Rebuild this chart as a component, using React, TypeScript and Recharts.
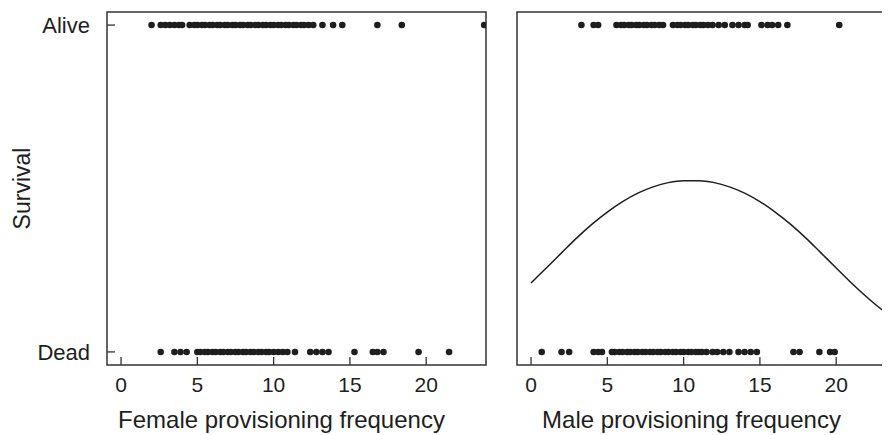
import { ScatterChart, Scatter, XAxis, YAxis, ReferenceArea } from "recharts";

const xTicks = [0, 5, 10, 15, 20];
const yTicks = [0, 1];
const yLabels = ["Dead", "Alive"];

const femaleAlive = [
  2.0, 2.6, 2.9, 3.2, 3.5, 3.8, 4.0, 4.5, 4.8, 5.0, 5.3, 5.5, 5.8, 6.0, 6.3, 6.5,
  6.8, 7.0, 7.3, 7.5, 7.8, 8.0, 8.3, 8.5, 8.8, 9.0, 9.3, 9.5, 9.8, 10.0, 10.3,
  10.5, 10.8, 11.0, 11.3, 11.5, 11.8, 12.0, 12.3, 12.6, 13.2, 13.9, 14.5, 16.8,
  18.4, 23.8,
];
const femaleDead = [
  2.6, 3.5, 3.9, 4.3, 5.0, 5.2, 5.5, 5.7, 6.0, 6.2, 6.5, 6.7, 7.0, 7.2, 7.5, 7.7,
  8.0, 8.2, 8.5, 8.7, 9.0, 9.2, 9.5, 9.7, 10.0, 10.3, 10.6, 10.9, 11.4, 12.4,
  12.8, 13.2, 13.6, 15.3, 16.5, 16.8, 17.2, 19.5, 21.5,
];
const maleAlive = [
  3.3, 4.1, 4.4, 5.6, 5.9, 6.1, 6.4, 6.6, 6.9, 7.1, 7.4, 7.6, 7.9, 8.1, 8.4, 8.65,
  9.3, 9.6, 9.8, 10.1, 10.3, 10.6, 10.8, 11.1, 11.3, 11.6, 11.9, 12.3, 12.7, 13.2,
  13.6, 14.0, 14.2, 15.1, 15.5, 15.8, 16.2, 16.8, 20.2,
];
const maleDead = [
  0.7, 2.0, 2.5, 4.1, 4.4, 4.65, 5.3, 5.5, 5.8, 6.0, 6.3, 6.5, 6.8, 7.0, 7.3, 7.5,
  7.8, 8.0, 8.3, 8.5, 8.8, 9.0, 9.3, 9.5, 9.8, 10.0, 10.3, 10.5, 10.8, 11.0, 11.2,
  11.5, 11.9, 12.2, 12.6, 13.0, 13.6, 14.0, 14.4, 14.8, 17.2, 17.6, 18.9, 19.6, 19.9,
];

// fitted survival curve (male panel)
const curveX = [0, 1, 2, 3, 4, 5, 6, 7, 8, 9, 10, 11, 12, 13, 14, 15, 16, 17, 18, 19, 20, 21, 22, 23, 24];
const curveP = [
  0.211, 0.257, 0.303, 0.349, 0.391, 0.428, 0.46, 0.486, 0.505, 0.518, 0.524, 0.524,
  0.518, 0.505, 0.486, 0.46, 0.428, 0.391, 0.349, 0.303, 0.257, 0.211, 0.168, 0.129, 0.096,
];

const X_DOMAIN: [number, number] = [-0.92, 23.92];
const Y_DOMAIN: [number, number] = [-0.04, 1.04];

const FONT = "'Liberation Sans', Arial, Helvetica, sans-serif";
const INK = "#1e1e1e";

const toPts = (xs: number[], y: number) => xs.map((x) => ({ x, y }));
const curve = curveX.map((x, i) => ({ x, y: curveP[i] }));

const Dot = (p: any) => <circle cx={p.cx} cy={p.cy} r={3.3} fill={INK} />;
const NoDot = () => <g />;

// axis title sits a little left of the panel centre in the original
const titleLabel = (title: string) => (props: any) => {
  const vb = props.viewBox || { x: 0, y: 0, width: 0, height: 0 };
  return (
    <text
      x={vb.x + vb.width / 2 - 15}
      y={vb.y + vb.height - 3}
      textAnchor="middle"
      fill={INK}
      fontSize={24}
      fontFamily={FONT}
    >
      {title}
    </text>
  );
};

function Panel({
  alive,
  dead,
  title,
  showY,
  withCurve,
}: {
  alive: number[];
  dead: number[];
  title: string;
  showY: boolean;
  withCurve?: boolean;
}) {
  return (
    <ScatterChart
      width={showY ? 500 : 400}
      height={427}
      margin={{ top: 4, right: showY ? 22 : 12, bottom: 4, left: 9 }}
    >
      <XAxis
        type="number"
        dataKey="x"
        domain={X_DOMAIN}
        ticks={xTicks}
        allowDataOverflow
        height={66}
        axisLine={false}
        tickSize={-8}
        tickMargin={20}
        tickLine={{ stroke: "#333", strokeWidth: 1.3 }}
        tick={{ fill: INK, fontSize: 21, fontFamily: FONT }}
        label={{ content: titleLabel(title) }}
      />
      <YAxis
        type="number"
        dataKey="y"
        domain={Y_DOMAIN}
        ticks={yTicks}
        allowDataOverflow
        hide={!showY}
        width={90}
        axisLine={false}
        tickSize={-8}
        tickMargin={25}
        tickLine={{ stroke: "#333", strokeWidth: 1.3 }}
        tickFormatter={(v: number) => yLabels[v]}
        tick={{ fill: INK, fontSize: 22, fontFamily: FONT }}
        label={{
          value: "Survival",
          angle: -90,
          position: "insideLeft",
          offset: 5,
          style: { fill: INK, fontSize: 23, fontFamily: FONT, textAnchor: "middle" },
        }}
      />
      <ReferenceArea
        x1={X_DOMAIN[0]}
        x2={X_DOMAIN[1]}
        y1={Y_DOMAIN[0]}
        y2={Y_DOMAIN[1]}
        fill="none"
        fillOpacity={0}
        stroke="#333"
        strokeWidth={1.5}
      />
      <Scatter data={toPts(alive, 1)} shape={Dot} isAnimationActive={false} />
      <Scatter data={toPts(dead, 0)} shape={Dot} isAnimationActive={false} />
      {withCurve && (
        <Scatter
          data={curve}
          shape={NoDot}
          line={{ stroke: INK, strokeWidth: 1.5 }}
          lineJointType="monotoneX"
          isAnimationActive={false}
        />
      )}
    </ScatterChart>
  );
}

export default function App() {
  return (
    <div style={{ position: "relative", width: 882, height: 427, overflow: "hidden", background: "#fff" }}>
      <div style={{ position: "absolute", left: 0, top: 0 }}>
        <Panel alive={femaleAlive} dead={femaleDead} title="Female provisioning frequency" showY />
      </div>
      <div style={{ position: "absolute", left: 500, top: 0 }}>
        <Panel alive={maleAlive} dead={maleDead} title="Male provisioning frequency" showY={false} withCurve />
      </div>
    </div>
  );
}
